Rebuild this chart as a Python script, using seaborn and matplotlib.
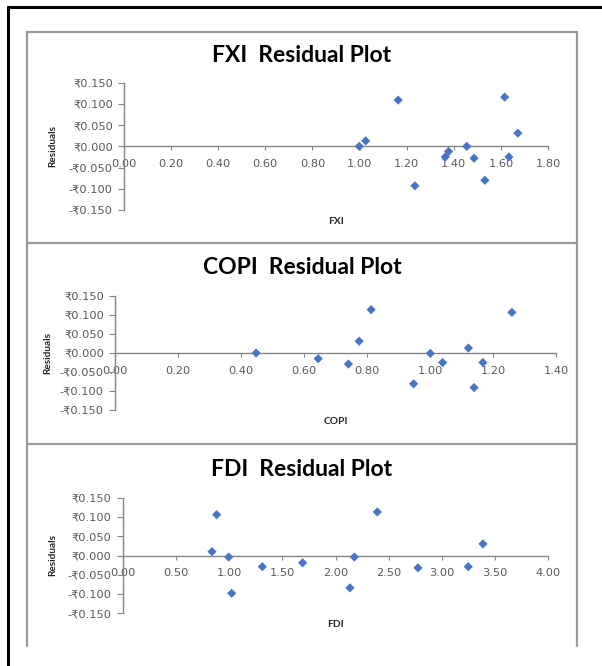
import matplotlib
matplotlib.use("Agg")
import matplotlib.pyplot as plt
from matplotlib.lines import Line2D
from matplotlib.ticker import FuncFormatter, MultipleLocator
import seaborn as sns
import pandas as pd

sns.set_theme(style="white")
plt.rcParams['font.family'] = ['DejaVu Sans', 'Noto Sans']

# Residuals against each explanatory variable
fxi = [1.164, 1.616, 1.672, 0.999, 1.026, 1.455, 1.378, 1.364, 1.486, 1.634, 1.235, 1.532]
fxi_resid = [0.109, 0.116, 0.031, 0.000, 0.013, 0.000, -0.012, -0.025, -0.028, -0.025, -0.093, -0.080]

copi = [0.448, 0.645, 0.741, 0.775, 0.813, 0.948, 1.001, 1.040, 1.122, 1.140, 1.168, 1.260]
copi_resid = [0.000, -0.015, -0.029, 0.031, 0.114, -0.081, -0.001, -0.025, 0.013, -0.091, -0.025, 0.107]

fdi = [0.839, 0.883, 0.996, 1.024, 1.312, 1.691, 2.136, 2.177, 2.393, 2.775, 3.248, 3.386]
fdi_resid = [0.010, 0.106, -0.004, -0.098, -0.029, -0.019, -0.084, -0.004, 0.113, -0.032, -0.029, 0.030]

y_ticks = [-0.150, -0.100, -0.050, 0.000, 0.050, 0.100, 0.150]

W, H = 602, 666
fig = plt.figure(figsize=(W / 100, H / 100), dpi=100)
fig.patch.set_facecolor("white")


def px_rect(x0, y_top, x1, y_bot):
    return [x0 / W, 1 - y_bot / H, (x1 - x0) / W, (y_bot - y_top) / H]


def fig_line(xs, ys, **kw):
    fig.add_artist(Line2D([x / W for x in xs], [1 - y / H for y in ys],
                          transform=fig.transFigure, **kw))


# outer frame
fig_line([8, 8], [7, 666], color="black", lw=2.2)
fig_line([8, 602], [7, 7], color="black", lw=2.2)

# chart-area borders
border = dict(color="#9a9a9a", lw=1.6)
fig_line([27, 577], [32, 32], **border)
fig_line([27, 577], [243, 243], **border)
fig_line([27, 577], [444, 444], **border)
fig_line([27, 27], [32, 646], **border)
fig_line([577, 577], [32, 646], **border)

panels = [
    dict(name="FXI", x=fxi, r=fxi_resid, xmax=1.8, step=0.2, fmt="{:.2f}",
         box=(124, 82.7, 548, 210), title_y=55, ylab_x=53),
    dict(name="COPI", x=copi, r=copi_resid, xmax=1.4, step=0.2, fmt="{:.2f}",
         box=(115, 296, 556, 410), title_y=268, ylab_x=48),
    dict(name="FDI", x=fdi, r=fdi_resid, xmax=4.0, step=0.5, fmt="{:.2f}",
         box=(122.7, 497.7, 548.3, 613.3), title_y=470, ylab_x=53),
]

axis_gray = "#868686"
label_gray = "#595959"


def rupee(v, _pos):
    s = "₹{:.3f}".format(abs(v))
    return "-" + s if v < -1e-9 else s


for p in panels:
    x0, yt, x1, yb = p["box"]
    ax = fig.add_axes(px_rect(x0, yt, x1, yb))
    ax.set_facecolor("none")
    df = pd.DataFrame({p["name"]: p["x"], "Residuals": p["r"]})
    sns.scatterplot(data=df, x=p["name"], y="Residuals", ax=ax, marker="D",
                    s=22, color="#4675C6", edgecolor="none", linewidth=0, zorder=3)
    ax.set_xlim(0, p["xmax"])
    ax.set_ylim(-0.15, 0.15)
    ax.set_yticks(y_ticks)
    ax.xaxis.set_major_locator(MultipleLocator(p["step"]))
    ax.xaxis.set_major_formatter(FuncFormatter(lambda v, _p, f=p["fmt"]: f.format(v)))
    ax.yaxis.set_major_formatter(FuncFormatter(rupee))

    for side in ("top", "right"):
        ax.spines[side].set_visible(False)
    ax.spines["bottom"].set_position(("data", 0))
    for side in ("left", "bottom"):
        ax.spines[side].set_color(axis_gray)
        ax.spines[side].set_linewidth(1.0)

    ax.tick_params(axis="x", direction="out", length=3, width=0.8, color=axis_gray,
                   labelsize=8.2, labelcolor=label_gray, pad=6, bottom=True)
    ax.tick_params(axis="y", direction="out", length=4, width=0.8, color=axis_gray,
                   labelsize=8.2, labelcolor=label_gray, pad=4, left=True)
    ax.grid(False)

    ax.set_xlabel("")
    ax.set_ylabel("")
    cy = (yt + yb) / 2
    fig.text(p["ylab_x"] / W, 1 - cy / H, "Residuals", rotation=90, ha="center",
             va="center", fontsize=7.2, fontweight="bold", color="#262626",
             family=["Lato", "DejaVu Sans"])
    fig.text(((x0 + x1) / 2) / W, 1 - (yb + 11) / H, p["name"], ha="center",
             va="center", fontsize=7.4, fontweight="bold", color="#262626",
             family=["Lato", "DejaVu Sans"])
    fig.text(302 / W, 1 - p["title_y"] / H, p["name"] + "  Residual Plot",
             ha="center", va="center", fontsize=16.5, fontweight="bold",
             color="black", family=["Lato", "DejaVu Sans"])

fig.savefig("out.png", dpi=100, facecolor="white")
